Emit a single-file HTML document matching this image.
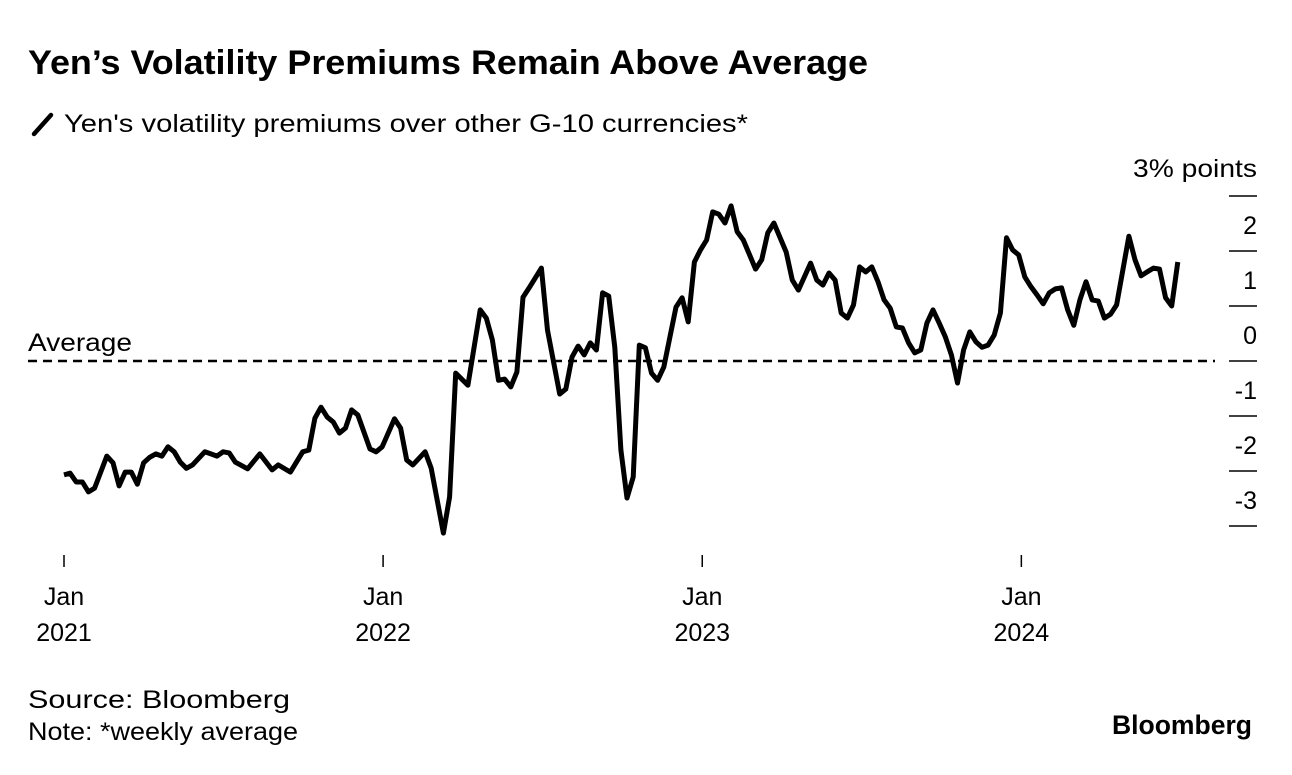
<!DOCTYPE html>
<html><head><meta charset="utf-8">
<style>
body{margin:0;background:#fff;width:1292px;height:770px;overflow:hidden;font-family:"Liberation Sans",Arial,sans-serif;}
svg text{font-family:"Liberation Sans",Arial,sans-serif;fill:#000;}
</style></head>
<body>
<svg id="chart" width="1292" height="770">
<text x="28" y="74" font-size="34" font-weight="bold" textLength="840" lengthAdjust="spacingAndGlyphs">Yen’s Volatility Premiums Remain Above Average</text>
<line x1="34" y1="134" x2="51" y2="115" stroke="#000" stroke-width="4.5" stroke-linecap="round"/>
<text x="64" y="132" font-size="25" textLength="684" lengthAdjust="spacingAndGlyphs">Yen's volatility premiums over other G-10 currencies*</text>
<text x="1257" y="177" font-size="25" text-anchor="end" textLength="124" lengthAdjust="spacingAndGlyphs">3% points</text>
<g id="yaxis"></g>
<g id="xaxis"></g>
<line x1="28" y1="361" x2="1215" y2="361" stroke="#000" stroke-width="2.5" stroke-dasharray="9,6"/>
<text x="28" y="351" font-size="25" textLength="104" lengthAdjust="spacingAndGlyphs">Average</text>
<path id="series" fill="none" stroke="#000" stroke-width="5" stroke-linejoin="round"/>
<text x="28" y="708" font-size="25" textLength="262" lengthAdjust="spacingAndGlyphs">Source: Bloomberg</text>
<text x="28" y="740" font-size="25" textLength="270" lengthAdjust="spacingAndGlyphs">Note: *weekly average</text>
<text x="1252" y="734" font-size="27" font-weight="bold" text-anchor="end" textLength="140" lengthAdjust="spacingAndGlyphs">Bloomberg</text>
</svg>
<script>
const weeks=[0,1,2,3,4,5,7,8,9,10,11,12,13,14,15,16,17,18,19,20,21,23,24,25,26,27,28,30,32,34,35,37,39,40,41,42,43,44,45,46,47,48,50,51,52,54,55,56,57,59,60,62,63,64,66,68,69,70,71,72,73,74,75,76,78,79,81,82,83,84,85,86,87,88,89,90,91,92,93,94,95,96,97,98,100,101,102,103,104,105,106,107,108,109,110,111,113,114,115,116,118,119,120,122,123,124,125,126,127,128,129,130,131,132,133,134,135,136,137,138,139,140,141,142,143,144,145,146,147,148,149,150,151,152,153,154,155,156,157,158,159,160,161,162,163,164,165,166,167,168,169,170,171,172,174,175,176,177,178,179,180,181,182];
const values=[-2.07,-2.04,-2.2,-2.2,-2.38,-2.31,-1.73,-1.85,-2.27,-2.02,-2.02,-2.24,-1.85,-1.75,-1.69,-1.73,-1.56,-1.65,-1.84,-1.95,-1.89,-1.65,-1.69,-1.73,-1.65,-1.67,-1.84,-1.96,-1.69,-1.98,-1.89,-2.02,-1.65,-1.62,-1.04,-0.84,-1.02,-1.11,-1.31,-1.22,-0.89,-0.98,-1.6,-1.65,-1.56,-1.05,-1.22,-1.8,-1.89,-1.65,-1.95,-3.13,-2.47,-0.22,-0.44,0.93,0.78,0.38,-0.35,-0.33,-0.47,-0.2,1.16,1.33,1.69,0.56,-0.6,-0.51,0.07,0.27,0.11,0.33,0.2,1.24,1.18,0.25,-1.62,-2.49,-2.11,0.29,0.24,-0.22,-0.35,-0.11,0.98,1.15,0.71,1.8,2.02,2.2,2.71,2.67,2.51,2.82,2.35,2.2,1.67,1.84,2.33,2.51,1.98,1.47,1.29,1.78,1.47,1.38,1.6,1.47,0.87,0.78,1.02,1.71,1.62,1.71,1.44,1.11,0.96,0.62,0.6,0.33,0.15,0.2,0.69,0.93,0.69,0.44,0.11,-0.4,0.2,0.53,0.35,0.25,0.29,0.47,0.87,2.24,2.02,1.93,1.53,1.35,1.2,1.04,1.24,1.31,1.33,0.93,0.65,1.11,1.44,1.11,1.09,0.78,0.85,1.02,2.27,1.84,1.55,1.62,1.69,1.67,1.15,1.0,1.8];
const yTicks=[3,2,1,0,-1,-2,-3];
const yTickLabels=["","2","1","0","-1","-2","-3"];
const xTickWeeks=[0,52.14,104.29,156.43];
const xTickMonths=["Jan","Jan","Jan","Jan"];
const xTickYears=["2021","2022","2023","2024"];
const NS="http://www.w3.org/2000/svg";
const xS=w=>64+w*6.12;
const yS=v=>361-v*55;
let d="";
weeks.forEach((w,i)=>{d+=(i?"L":"M")+xS(w).toFixed(1)+","+yS(values[i]).toFixed(1);});
document.getElementById("series").setAttribute("d",d);
const ya=document.getElementById("yaxis");
yTicks.forEach((t,i)=>{
 const l=document.createElementNS(NS,"line");
 l.setAttribute("x1",1229);l.setAttribute("x2",1257);l.setAttribute("y1",yS(t));l.setAttribute("y2",yS(t));
 l.setAttribute("stroke","#000");l.setAttribute("stroke-width","1.5");
 
 
 ya.appendChild(l);
 if(yTickLabels[i]){
  const tx=document.createElementNS(NS,"text");
  tx.setAttribute("x",1257);tx.setAttribute("y",yS(t)-17);tx.setAttribute("font-size","25");tx.setAttribute("text-anchor","end");
  tx.textContent=yTickLabels[i];
  
  
  ya.appendChild(tx);
 }
});
const xa=document.getElementById("xaxis");
xTickWeeks.forEach((w,i)=>{
 const x=xS(w);
 const l=document.createElementNS(NS,"line");
 l.setAttribute("x1",x);l.setAttribute("x2",x);l.setAttribute("y1",555);l.setAttribute("y2",567);
 l.setAttribute("stroke","#000");l.setAttribute("stroke-width","1.5");
 
 
 xa.appendChild(l);
 const t1=document.createElementNS(NS,"text");
 t1.setAttribute("x",x);t1.setAttribute("y",605);t1.setAttribute("font-size","25");t1.setAttribute("text-anchor","middle");
 t1.textContent=xTickMonths[i];
 
 
 xa.appendChild(t1);
 const t2=document.createElementNS(NS,"text");
 t2.setAttribute("x",x);t2.setAttribute("y",641);t2.setAttribute("font-size","25");t2.setAttribute("text-anchor","middle");
 t2.textContent=xTickYears[i];
 
 
 xa.appendChild(t2);
});
</script>
</body></html>
